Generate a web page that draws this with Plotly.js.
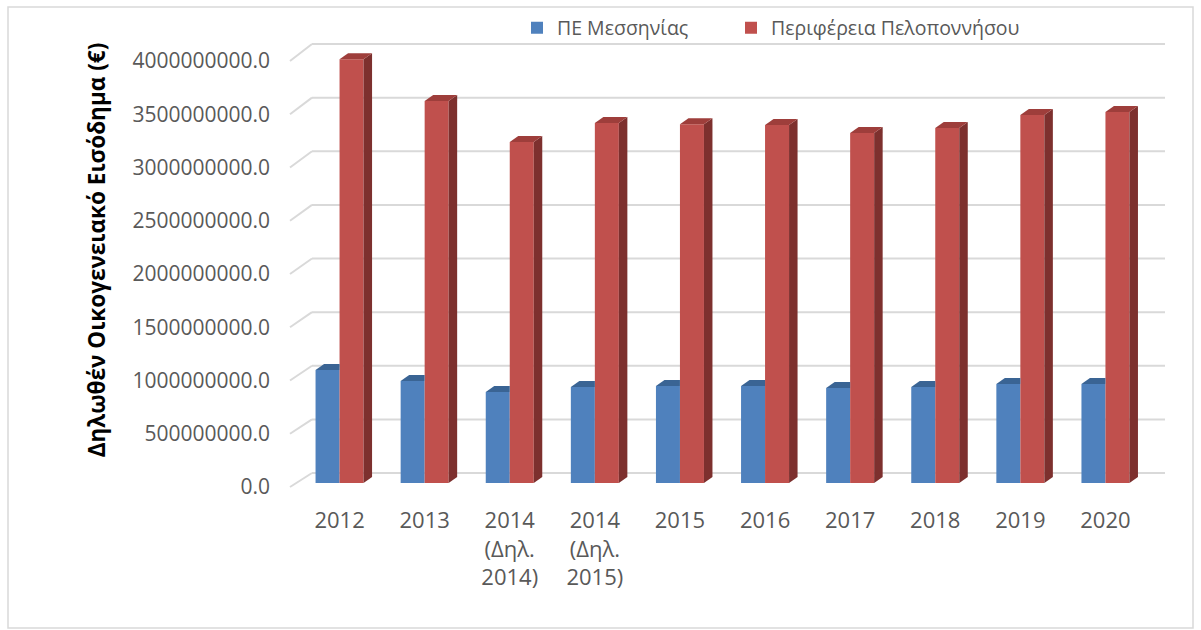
<!DOCTYPE html>
<html>
<head>
<meta charset="utf-8">
<script src="https://cdn.plot.ly/plotly-3.0.1.min.js"></script>
<style>html,body{margin:0;padding:0;background:#fff;}#chart{width:1201px;height:630px;}</style>
</head>
<body>
<div id="chart"></div>
<script>
// ---- data ----
const categories = ['2012', '2013', '2014<br>(Δηλ.<br>2014)', '2014<br>(Δηλ.<br>2015)', '2015', '2016', '2017', '2018', '2019', '2020'];
const seriesNames = ['ΠΕ Μεσσηνίας', 'Περιφέρεια Πελοποννήσου'];
const messinia = [1061000000, 958000000, 854000000, 901000000, 911000000, 911000000, 892000000, 901000000, 930000000, 930000000];
const peloponnese = [3980000000, 3587000000, 3202000000, 3380000000, 3370000000, 3362000000, 3286000000, 3333000000, 3455000000, 3484000000];
const yTicks = [0, 500000000, 1000000000, 1500000000, 2000000000, 2500000000, 3000000000, 3500000000, 4000000000];
const yTitle = 'Δηλωθέν Οικογενειακό Εισόδημα (€)';

// ---- layout geometry ----
const W = 1201, H = 630;
const px2x = p => p / W;
const px2y = p => (H - p) / H;
const FONT = 'Open Sans, Noto Sans, DejaVu Sans, sans-serif';
const TXT = '#595959';

// back wall (gridlines) geometry: value 0 at 473px, 4e9 at 44px
const backRange = [0, 4000000000];
const backDom = [473, 44];
const backLeft = 312, backRight = 1165;
// bar axis
const barRange = [0, 4376000000];
const barDom = [483, 17];
const xRange = [-0.5, categories.length - 0.5];

const idx = categories.map((c, i) => i);

const barW = 0.282;        // each bar's width in category units
const depthX = 0.10;       // 3D depth offset in category units
const depthY = 56300000;   // 3D depth offset in value units

const BLUE = '#4f81bd', BLUE_TOP = '#3a6494';
const RED = '#c0504d', RED_TOP = '#9e3e3b', RED_SIDE = '#7d302e';

const traces = [
  {type: 'bar', name: seriesNames[0], x: idx, y: messinia, legend: 'legend',
   marker: {color: BLUE, line: {width: 0}}, hoverinfo: 'y'},
  {type: 'bar', name: seriesNames[1], x: idx, y: peloponnese, legend: 'legend2',
   marker: {color: RED, line: {width: 0}}, hoverinfo: 'y'}
];

const shapes = [];
// 3D faces, computed from the data
idx.forEach(i => {
  const b0 = i - barW, b1 = i;          // blue bar
  const r0 = i, r1 = i + barW;          // red bar
  const vb = messinia[i], vr = peloponnese[i];
  shapes.push({type: 'path', xref: 'x', yref: 'y', layer: 'above', line: {width: 0}, fillcolor: BLUE_TOP,
    path: `M${b0},${vb} L${b1},${vb} L${b1},${vb + depthY} L${b0 + depthX},${vb + depthY} Z`});
  shapes.push({type: 'path', xref: 'x', yref: 'y', layer: 'above', line: {width: 0}, fillcolor: RED_SIDE,
    path: `M${r1},0 L${r1},${vr} L${r1 + depthX},${vr + depthY} L${r1 + depthX},${depthY} Z`});
  shapes.push({type: 'path', xref: 'x', yref: 'y', layer: 'above', line: {width: 0}, fillcolor: RED_TOP,
    path: `M${r0},${vr} L${r1},${vr} L${r1 + depthX},${vr + depthY} L${r0 + depthX},${vr + depthY} Z`});
});

// back-wall gridlines and the diagonal wall edges linking front tick positions to them
const backPx = v => backDom[0] + (v - backRange[0]) / (backRange[1] - backRange[0]) * (backDom[1] - backDom[0]);
const frontPx = v => barDom[0] + 4 + (v - barRange[0]) / (barRange[1] - barRange[0]) * (barDom[1] - barDom[0]);
yTicks.forEach(v => {
  shapes.push({type: 'line', xref: 'paper', yref: 'paper', layer: 'below',
    x0: px2x(backLeft), y0: px2y(backPx(v)), x1: px2x(backRight), y1: px2y(backPx(v)),
    line: {color: '#d9d9d9', width: 2}});
  shapes.push({type: 'line', xref: 'paper', yref: 'paper', layer: 'below',
    x0: px2x(290), y0: px2y(frontPx(v)), x1: px2x(backLeft), y1: px2y(backPx(v)),
    line: {color: '#d9d9d9', width: 2}});
});
// outer chart border
shapes.push({type: 'rect', xref: 'paper', yref: 'paper', layer: 'below',
  x0: px2x(8), y0: px2y(628), x1: px2x(1193), y1: px2y(7), line: {color: '#d9d9d9', width: 1.5}, fillcolor: 'rgba(0,0,0,0)'});

const legendFont = {family: FONT, size: 19.5, color: TXT};
const layout = {
  width: W, height: H,
  margin: {l: 0, r: 0, t: 0, b: 0, pad: 0},
  paper_bgcolor: '#ffffff', plot_bgcolor: 'rgba(0,0,0,0)',
  font: {family: FONT, color: TXT, size: 21},
  showlegend: true,
  barmode: 'group', bargap: 0.436, bargroupgap: 0,
  xaxis: {domain: [px2x(297), px2x(1148)], range: xRange, tickvals: idx, ticktext: categories,
          showgrid: false, zeroline: false, showline: false, ticks: '',
          tickfont: {family: FONT, size: 22, color: TXT}, ticklabelstandoff: 22, fixedrange: true},
  yaxis: {domain: [px2y(barDom[0]), px2y(barDom[1])], range: barRange,
          tickvals: yTicks, tickformat: '.1f', showgrid: false, zeroline: false, showline: false,
          ticks: '', ticklabelstandoff: 26, ticklabelshift: 4,
          tickfont: {family: FONT, size: 21, color: TXT}, fixedrange: true,
          title: {text: yTitle, standoff: 20, font: {family: FONT, size: 22.5, color: '#000000', weight: 'bold'}}},
  legend: {orientation: 'h', x: px2x(517), xanchor: 'left', y: px2y(28), yanchor: 'middle',
           font: legendFont, bgcolor: 'rgba(0,0,0,0)'},
  legend2: {orientation: 'h', x: px2x(731), xanchor: 'left', y: px2y(28), yanchor: 'middle',
           font: legendFont, bgcolor: 'rgba(0,0,0,0)'},
  shapes: shapes
};

Plotly.newPlot('chart', traces, layout, {displayModeBar: false, staticPlot: true});
</script>
</body>
</html>
